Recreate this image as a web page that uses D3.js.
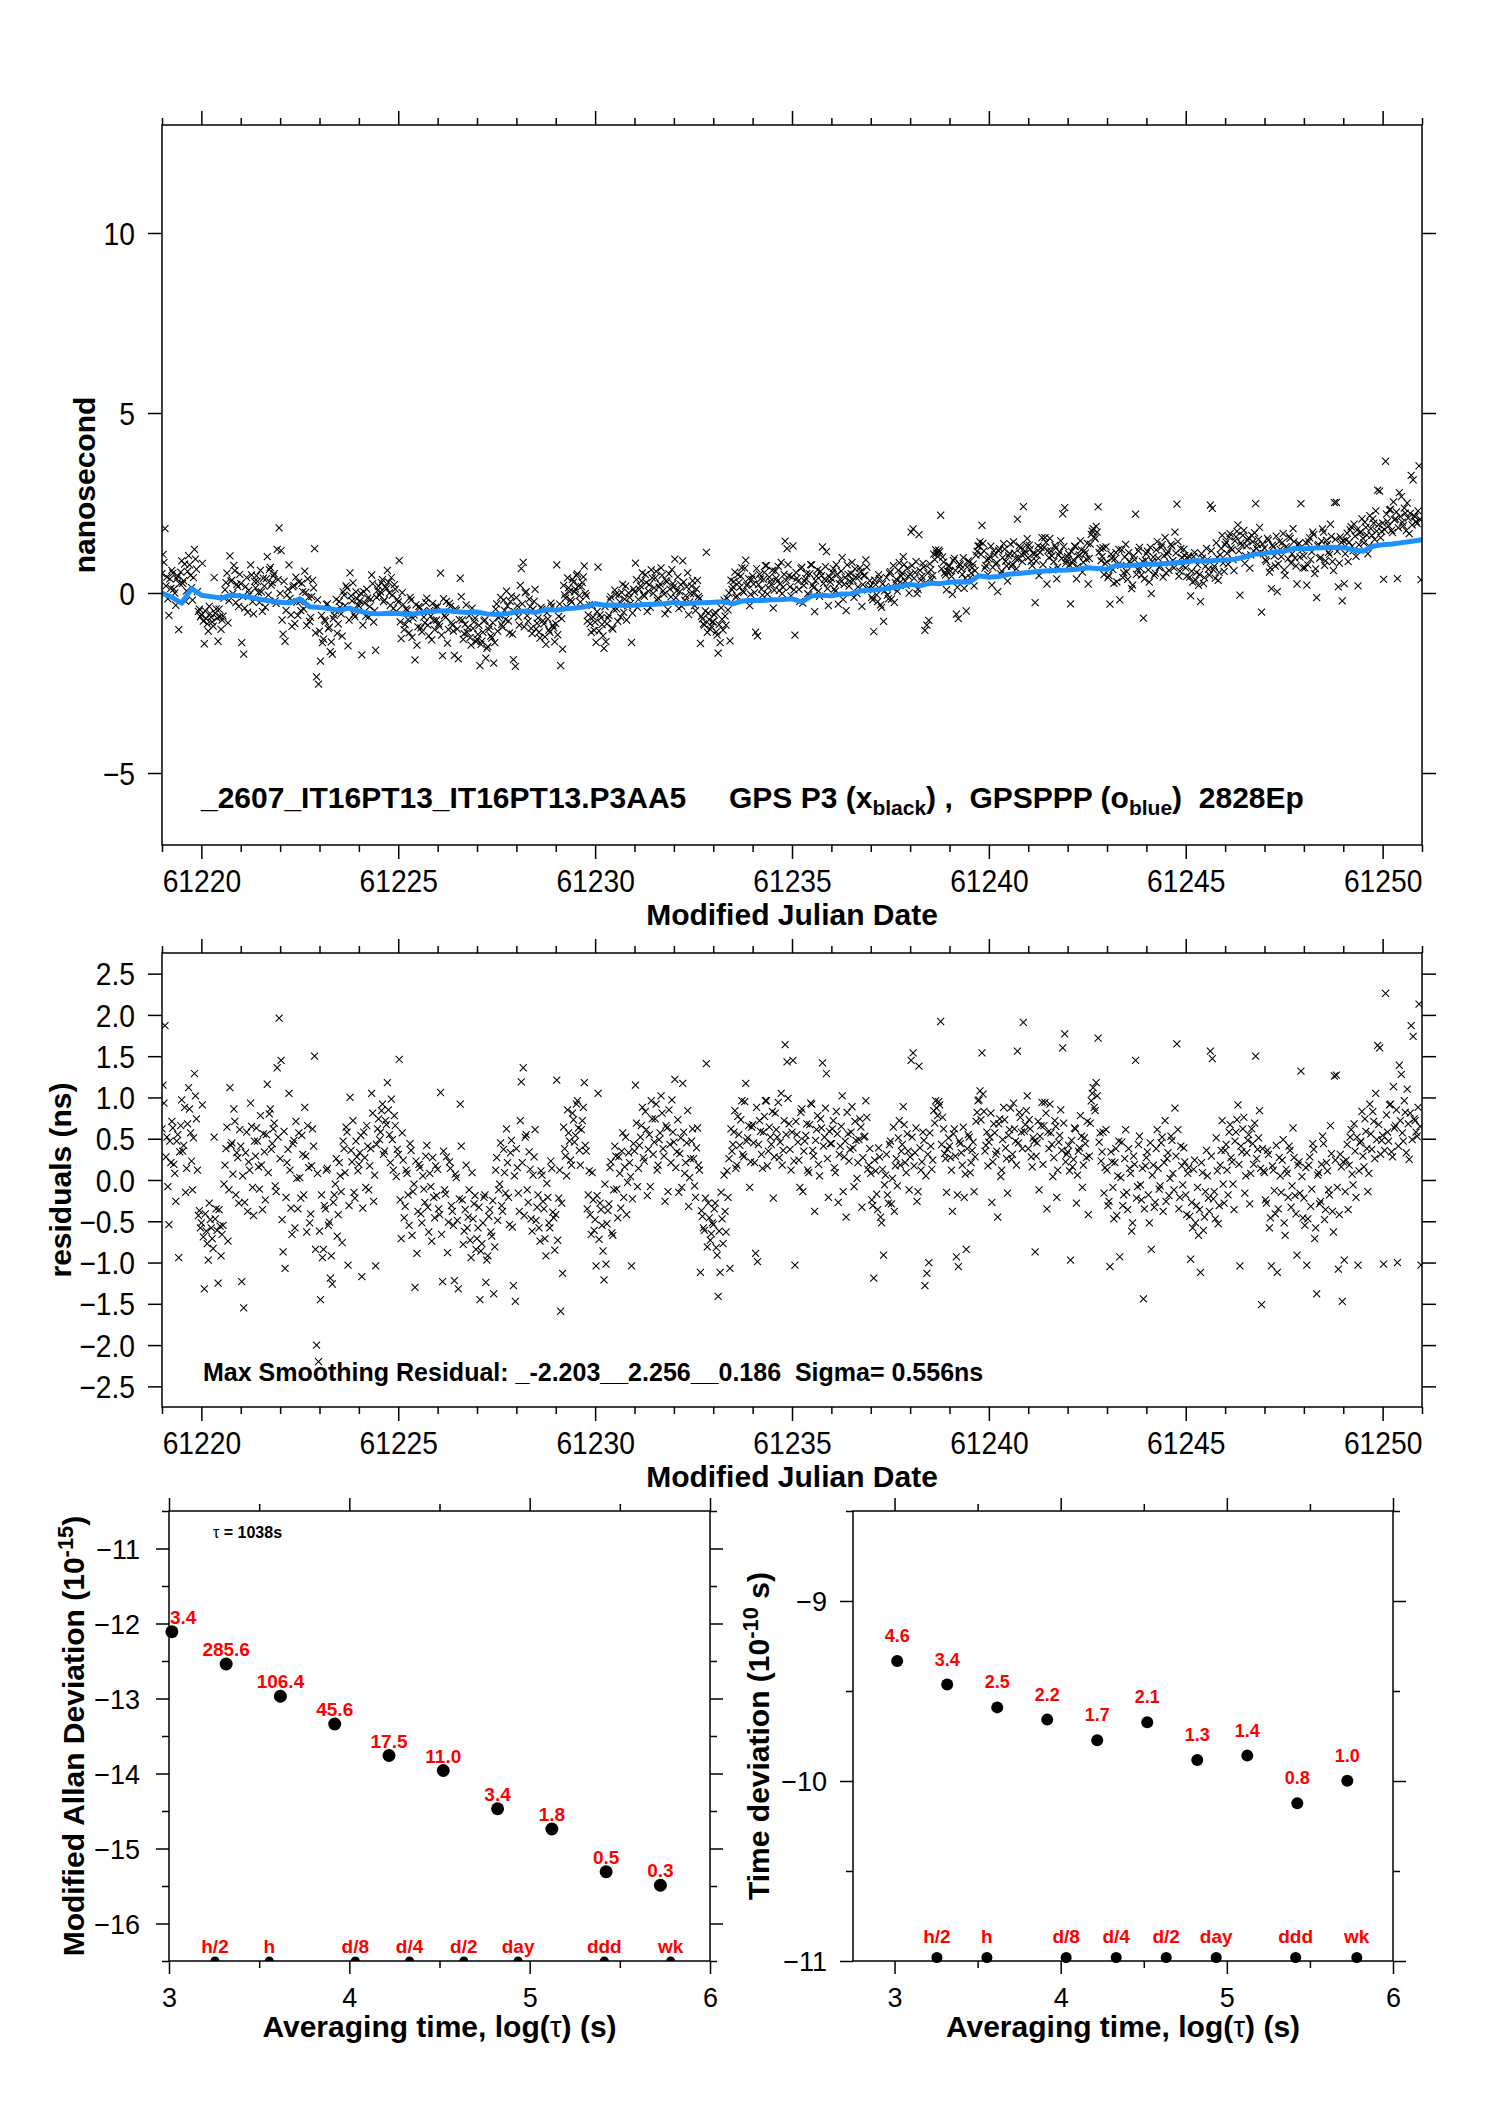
<!DOCTYPE html>
<html><head><meta charset="utf-8">
<script src="https://cdn.jsdelivr.net/npm/d3@7"></script>
<style>body{margin:0;background:#fff}</style>
</head><body><svg id="c" width="1488" height="2105" xmlns="http://www.w3.org/2000/svg"></svg>
<script>
// ---------------- DATA ----------------
// sampling grids of the scatter series (MJD): set A and interleaved set B
const epochStartA = 61219.025, epochStartB = 61219.0, epochStep = 0.05;
// residuals (ns), set A, 20 per day
const residualsA = [
1.15,1.87,0.52,-0.54,0.21,0.63,0.08,0.47,-0.94,0.66,0.35,0.88,0.14,1.12,0.57,-0.12,1.29,0.74,-0.43,-0.58,
0.91,-1.32,-0.62,-0.97,-0.48,-0.71,0.52,-0.35,-1.25,-0.56,-0.66,-0.05,0.38,-0.74,1.12,0.45,0.86,-0.18,0.27,0.61,
-1.23,-1.55,0.33,-0.38,0.12,0.65,-0.43,0.29,0.47,-0.11,0.18,0.56,-0.24,1.16,0.80,0.37,0.62,-0.07,1.36,1.96,
1.45,-0.87,-1.07,0.21,1.05,-0.34,0.44,-0.58,0.02,0.57,-0.22,0.31,0.88,-0.63,0.15,-0.41,0.62,1.50,-2.00,-2.20,
-1.45,-0.94,-0.31,0.12,-0.55,-1.19,-1.26,-0.18,0.26,-0.42,0.05,-0.76,0.38,0.64,-1.03,1.00,0.22,-0.15,0.47,0.11,
0.33,-1.17,0.58,-0.09,0.41,0.17,1.05,-0.26,-1.04,0.62,0.49,0.84,0.31,0.72,1.18,0.55,0.98,0.12,0.66,0.37,
1.46,-0.71,0.24,-0.32,0.08,-0.55,0.36,-0.14,-1.30,-0.89,0.19,-0.41,0.05,-0.27,0.42,-0.63,-0.08,0.27,-0.46,-0.19,
-0.35,1.06,-1.23,-0.12,0.28,-0.51,0.14,-0.38,-1.22,0.03,-1.32,0.92,-0.24,-0.62,0.18,-0.45,-0.73,0.09,-0.29,-0.84,
-0.58,-1.45,-0.77,-0.21,-1.24,-0.92,-0.36,-0.68,-1.38,0.12,-0.49,-0.05,-0.31,0.37,-0.16,0.21,-0.54,0.48,-1.28,-1.47,
0.15,-0.38,1.19,1.36,0.52,-0.12,0.34,-0.47,0.06,0.61,-0.33,-0.58,0.11,-0.26,-0.71,-0.04,-0.52,0.23,-0.39,-0.85,
1.21,-0.22,-1.59,-1.13,0.38,0.05,0.57,0.24,0.81,0.46,0.92,0.63,0.18,0.72,1.18,0.35,-0.18,-0.42,0.09,-0.61,
-1.04,1.05,-0.28,-0.55,-1.21,-1.02,-0.37,0.15,-0.64,-0.12,0.29,-0.46,0.08,0.35,-0.21,0.52,-0.03,0.21,-1.04,0.44,
1.15,-0.08,0.42,0.66,0.27,0.83,-0.19,0.55,0.96,0.31,0.74,0.12,0.49,1.02,0.38,-0.26,0.63,0.85,0.21,0.58,
1.22,0.34,-0.15,0.51,1.17,0.08,0.45,-0.32,0.26,0.62,-0.07,0.39,0.18,-1.12,-0.44,-0.61,1.41,-0.28,-0.73,-0.52,
-0.35,-0.82,-1.41,-1.12,-0.47,0.06,-0.63,-0.21,-1.07,0.35,0.58,0.14,0.77,0.42,0.96,0.28,1.17,0.51,-0.09,0.64,
0.45,-0.89,-0.99,0.72,0.31,0.58,0.96,0.17,0.64,0.43,-0.22,0.81,0.52,0.27,1.05,0.36,1.64,1.43,0.68,0.12,
1.45,-1.03,0.55,0.24,0.82,-0.14,0.47,0.68,0.09,0.93,0.36,-0.38,0.61,0.19,0.74,1.42,0.52,1.29,-0.21,0.44,
0.62,0.15,0.83,-0.27,0.41,1.02,0.28,-0.45,0.56,0.37,0.89,-0.08,0.48,0.21,0.74,-0.33,0.52,0.96,0.13,0.38,
-0.24,-1.19,0.11,-0.36,0.28,-0.52,-0.91,0.06,-0.18,0.43,-0.29,0.64,0.17,-0.07,0.72,0.35,0.89,0.21,0.56,-0.12,
1.45,1.54,0.33,-0.26,1.38,0.12,0.58,-1.28,-1.13,-1.00,0.41,0.24,0.69,0.87,0.95,1.92,0.76,0.32,-0.15,0.51,
0.27,-0.38,0.62,-0.93,-1.05,0.44,0.18,-0.21,-0.84,0.55,0.09,0.36,-0.14,0.71,0.96,1.08,1.54,0.83,0.42,0.17,
0.52,-0.27,0.68,0.31,-0.45,0.74,0.12,0.88,0.39,-0.16,0.61,0.25,0.93,0.47,1.56,0.82,0.58,1.91,0.67,1.02,
0.73,0.28,0.51,-0.87,0.45,-0.12,0.66,0.19,0.94,-0.35,0.38,0.57,0.04,0.72,-0.21,0.46,0.85,1.60,1.77,0.31,
0.42,-0.97,0.16,0.63,-0.28,0.35,0.78,-0.09,0.51,0.27,-0.42,0.69,1.05,0.88,1.18,1.72,0.57,0.34,-0.16,0.61,
-0.31,-1.05,0.22,-0.47,0.38,0.05,-0.93,0.46,-0.18,0.61,-0.36,0.14,-0.62,0.29,1.45,-0.08,0.53,-0.24,-1.44,0.17,
0.34,-0.52,-0.84,0.18,-0.27,0.61,-0.11,0.45,-0.38,0.72,0.26,-0.19,0.53,0.08,0.87,1.65,-0.35,0.41,-0.06,0.22,
-0.42,0.15,-0.96,-0.58,0.24,-0.31,-0.67,-1.12,0.09,-0.45,0.36,-0.22,1.56,1.47,-0.14,0.51,-0.53,0.18,0.72,-0.28,
0.43,-0.18,0.67,0.22,-0.36,0.58,0.91,-1.04,0.34,0.76,0.05,0.48,-0.29,0.62,0.19,1.50,0.37,0.84,-1.51,0.11,
-0.24,0.36,-0.58,-1.04,0.12,-0.41,-1.12,0.27,-0.15,0.49,-0.67,0.08,0.41,-0.33,0.63,-0.19,-0.91,0.22,1.32,-0.46,
-0.55,-1.03,0.18,-0.32,0.44,-0.71,-1.38,0.09,-0.26,0.53,-0.48,0.21,-0.12,0.66,-0.38,1.26,1.27,-1.08,0.31,-1.47,
-0.97,0.24,-0.36,0.52,0.07,0.68,-0.21,-1.03,0.45,0.83,0.16,0.59,-0.14,0.92,0.37,0.71,1.05,1.63,1.60,0.48,
-1.02,2.26,0.58,0.91,0.34,1.13,0.66,-1.00,1.39,1.28,0.47,0.82,1.10,0.25,1.87,1.74,0.72,0.53,2.13,-1.03
];
// residuals (ns), set B, 20 per day
const residualsB = [
0.62,0.93,0.28,-0.08,0.47,0.71,0.19,-0.26,0.55,0.34,0.97,0.42,-0.15,0.68,0.86,0.23,0.51,1.02,0.12,-0.37,
-0.52,-0.69,-0.41,-0.77,-0.28,-0.58,-0.83,-0.47,-0.61,-0.36,-0.92,-0.55,0.18,0.64,-0.12,0.42,0.07,0.71,0.33,-0.28,
0.41,0.05,-0.27,0.58,0.22,0.93,-0.09,0.47,0.63,0.16,0.78,-0.36,0.34,0.55,0.09,0.86,0.44,0.69,-0.14,0.52,
0.26,-0.48,0.59,-0.21,0.37,0.12,-0.66,0.48,0.71,-0.35,0.03,0.54,-0.18,0.29,0.66,-0.52,0.17,0.41,-0.84,0.08,
-0.62,-0.18,-0.84,-0.35,0.14,-0.51,-0.92,-0.27,-0.05,-0.68,0.21,-0.14,0.47,0.09,0.58,-0.31,0.36,0.72,-0.22,0.28,
0.19,0.54,-0.34,0.27,0.66,-0.12,0.38,0.81,0.06,0.43,0.74,0.58,0.92,0.35,0.67,0.85,0.21,0.49,0.78,0.04,
0.31,-0.24,0.57,-0.46,0.12,-0.18,0.44,-0.67,-0.05,0.23,-0.38,0.15,-0.52,-0.11,0.29,-0.33,0.08,-0.74,-0.21,0.17,
0.13,-0.42,-0.66,0.35,-0.17,-0.88,0.22,-0.31,-0.55,0.07,-0.49,-0.23,0.41,-0.78,-0.36,-0.58,-0.12,-0.94,-0.47,-0.19,
-0.71,-0.33,-0.86,-0.52,-0.18,-0.97,-0.44,-0.63,-0.25,-0.81,0.27,-0.12,0.45,-0.38,0.09,0.62,-0.21,0.33,-0.57,0.05,
0.38,-0.16,0.72,0.21,-0.43,0.55,-0.27,0.13,-0.62,0.28,-0.49,-0.18,-0.74,0.06,-0.35,-0.92,-0.21,-0.58,0.14,-0.46,
-0.42,-0.73,0.12,-0.28,0.64,0.29,0.85,0.47,0.18,0.73,0.54,0.96,0.36,0.61,0.88,0.42,-0.35,0.11,-0.66,-0.24,
-0.48,-0.19,-0.72,-0.36,-0.86,-0.05,-0.53,-0.29,0.22,-0.67,0.41,-0.11,0.28,-0.34,0.57,0.16,-0.42,0.33,0.04,-0.23,
0.35,0.69,0.14,0.52,0.88,0.23,0.61,0.37,-0.08,0.74,0.46,0.92,0.18,0.57,0.81,0.29,0.66,-0.14,0.43,0.97,
0.46,0.15,0.73,0.32,-0.09,0.58,0.21,0.84,0.03,0.47,0.26,-0.21,0.63,0.12,-0.37,-0.58,-0.22,-0.81,-0.46,-0.65,
-0.54,-0.28,-0.91,-0.62,-0.15,-0.77,-0.38,0.11,0.26,0.62,0.43,0.84,0.18,0.55,0.73,0.31,0.95,0.47,0.66,0.22,
0.67,0.21,0.88,0.43,0.59,0.14,0.77,0.96,0.35,0.52,0.83,0.28,0.61,0.94,0.46,0.18,0.72,0.55,0.99,0.37,
0.58,0.23,0.71,0.46,-0.09,0.86,0.35,0.54,0.12,0.67,0.92,0.29,0.48,0.78,0.05,0.63,0.41,0.87,0.26,0.59,
0.44,0.72,0.09,0.56,0.31,0.65,-0.14,0.47,0.82,0.23,0.58,0.39,0.71,0.02,0.49,0.64,0.27,0.53,0.76,0.18,
0.08,-0.31,0.24,-0.17,0.39,-0.45,0.13,-0.06,0.31,-0.28,0.47,0.02,-0.38,0.26,0.51,0.18,0.43,0.67,0.09,0.35,
0.28,0.52,0.17,0.63,-0.14,0.39,0.22,0.48,0.05,0.31,0.57,0.13,0.84,0.96,0.78,0.91,0.43,0.62,0.26,0.37,
0.41,0.12,0.56,0.29,-0.18,0.47,0.33,0.64,0.07,0.38,0.52,0.21,0.46,0.28,0.82,0.97,0.73,1.04,0.35,0.58,
0.46,0.81,0.22,0.57,0.35,0.68,0.04,0.49,0.73,0.26,0.54,0.87,0.31,0.62,0.18,0.45,0.76,0.38,0.59,0.84,
0.38,0.62,0.16,0.47,0.29,0.71,0.53,0.94,0.66,0.81,0.58,0.92,0.43,0.27,0.65,0.12,0.54,0.36,0.69,0.22,
0.34,0.11,0.48,0.25,0.62,0.06,0.39,0.53,0.18,0.44,0.71,0.29,0.96,1.12,0.84,1.02,0.46,0.23,0.58,0.15,
0.12,-0.26,0.34,-0.09,0.21,-0.43,0.47,0.03,-0.31,0.26,-0.15,0.38,0.08,-0.52,0.19,-0.22,0.43,-0.06,0.14,-0.35,
0.27,-0.18,0.45,0.06,-0.33,0.38,0.14,-0.07,0.52,0.21,-0.26,0.33,0.02,0.48,-0.12,0.29,0.61,-0.21,0.17,0.39,
-0.18,0.08,-0.44,-0.27,0.13,-0.52,-0.09,-0.36,0.21,-0.61,-0.14,0.05,-0.38,0.29,-0.23,-0.47,0.11,-0.31,0.36,-0.05,
0.36,0.12,0.58,0.27,-0.05,0.47,0.73,0.19,0.41,0.62,-0.16,0.33,0.55,0.08,0.44,0.69,0.26,0.51,0.14,0.38,
0.09,-0.28,0.31,-0.46,0.17,-0.13,0.42,-0.35,0.05,0.24,-0.52,0.13,-0.21,0.36,-0.07,0.27,-0.41,0.18,-0.16,0.04,
-0.22,0.15,-0.47,0.28,-0.11,0.37,-0.58,0.06,-0.29,0.19,0.44,-0.36,0.11,-0.18,0.32,-0.63,0.24,-0.09,-0.42,0.16,
0.22,-0.14,0.43,0.18,0.61,-0.06,0.35,0.52,0.11,0.47,0.29,0.74,0.38,0.08,0.56,0.83,0.26,0.49,0.67,0.31,
0.54,0.36,0.79,0.47,0.92,0.28,0.63,0.85,0.41,0.72,0.57,0.96,0.33,0.68,0.81,0.49,0.74,0.58,0.88,0.65
];
// GPS P3 time difference (ns, black x), set A, 20 per day
const gpsP3A = [
1.07,1.79,0.44,-0.62,0.13,0.55,0.00,0.39,-1.02,0.58,0.27,0.80,0.06,1.04,0.49,-0.20,1.21,0.66,-0.51,-0.66,
0.82,-1.41,-0.71,-1.06,-0.57,-0.80,0.43,-0.44,-1.34,-0.65,-0.75,-0.14,0.29,-0.83,1.03,0.36,0.77,-0.27,0.18,0.52,
-1.38,-1.70,0.18,-0.53,-0.03,0.50,-0.58,0.14,0.32,-0.26,0.03,0.41,-0.39,1.01,0.65,0.22,0.47,-0.22,1.21,1.81,
1.18,-1.14,-1.34,-0.06,0.78,-0.61,0.17,-0.85,-0.25,0.30,-0.49,0.04,0.61,-0.90,-0.12,-0.68,0.35,1.23,-2.33,-2.53,
-1.89,-1.38,-0.75,-0.32,-0.99,-1.63,-1.70,-0.62,-0.18,-0.86,-0.39,-1.20,-0.06,0.20,-1.47,0.56,-0.22,-0.59,0.03,-0.33,
-0.22,-1.72,0.03,-0.64,-0.14,-0.38,0.50,-0.81,-1.59,0.07,-0.06,0.29,-0.24,0.17,0.63,0.00,0.43,-0.43,0.11,-0.18,
0.90,-1.27,-0.32,-0.88,-0.48,-1.11,-0.20,-0.70,-1.86,-1.45,-0.37,-0.97,-0.51,-0.83,-0.14,-1.19,-0.64,-0.29,-1.02,-0.75,
-0.86,0.55,-1.74,-0.63,-0.23,-1.02,-0.37,-0.89,-1.73,-0.48,-1.83,0.41,-0.75,-1.13,-0.33,-0.96,-1.24,-0.42,-0.80,-1.35,
-1.15,-2.02,-1.34,-0.78,-1.81,-1.49,-0.93,-1.25,-1.95,-0.45,-1.06,-0.62,-0.88,-0.20,-0.73,-0.36,-1.11,-0.09,-1.85,-2.04,
-0.36,-0.89,0.68,0.85,0.01,-0.63,-0.17,-0.98,-0.45,0.10,-0.84,-1.09,-0.40,-0.77,-1.22,-0.55,-1.03,-0.28,-0.90,-1.36,
0.78,-0.65,-2.02,-1.56,-0.05,-0.38,0.14,-0.19,0.38,0.03,0.49,0.20,-0.25,0.29,0.75,-0.08,-0.61,-0.85,-0.34,-1.04,
-1.37,0.72,-0.61,-0.88,-1.54,-1.35,-0.70,-0.18,-0.97,-0.45,-0.04,-0.79,-0.25,0.02,-0.54,0.19,-0.36,-0.12,-1.37,0.11,
0.83,-0.40,0.10,0.34,-0.05,0.51,-0.51,0.23,0.64,-0.01,0.42,-0.20,0.17,0.70,0.06,-0.58,0.31,0.53,-0.11,0.26,
0.94,0.06,-0.43,0.23,0.89,-0.20,0.17,-0.60,-0.02,0.34,-0.35,0.11,-0.10,-1.40,-0.72,-0.89,1.13,-0.56,-1.01,-0.80,
-0.61,-1.08,-1.67,-1.38,-0.73,-0.20,-0.89,-0.47,-1.33,0.09,0.32,-0.12,0.51,0.16,0.70,0.02,0.91,0.25,-0.35,0.38,
0.25,-1.09,-1.19,0.52,0.11,0.38,0.76,-0.03,0.44,0.23,-0.42,0.61,0.32,0.07,0.85,0.16,1.44,1.23,0.48,-0.08,
1.31,-1.17,0.41,0.10,0.68,-0.28,0.33,0.54,-0.05,0.79,0.22,-0.52,0.47,0.05,0.60,1.28,0.38,1.15,-0.35,0.30,
0.58,0.11,0.79,-0.31,0.37,0.98,0.24,-0.49,0.52,0.33,0.85,-0.12,0.44,0.17,0.70,-0.37,0.48,0.92,0.09,0.34,
-0.12,-1.07,0.23,-0.24,0.40,-0.40,-0.79,0.18,-0.06,0.55,-0.17,0.76,0.29,0.05,0.84,0.47,1.01,0.33,0.68,0.00,
1.69,1.78,0.57,-0.02,1.62,0.36,0.82,-1.04,-0.89,-0.76,0.65,0.48,0.93,1.11,1.19,2.16,1.00,0.56,0.09,0.75,
0.61,-0.04,0.96,-0.59,-0.71,0.78,0.52,0.13,-0.50,0.89,0.43,0.70,0.20,1.05,1.30,1.42,1.88,1.17,0.76,0.51,
1.01,0.22,1.17,0.80,0.04,1.23,0.61,1.37,0.88,0.33,1.10,0.74,1.42,0.96,2.05,1.31,1.07,2.40,1.16,1.51,
1.33,0.88,1.11,-0.27,1.05,0.48,1.26,0.79,1.54,0.25,0.98,1.17,0.64,1.32,0.39,1.06,1.45,2.20,2.37,0.91,
1.09,-0.30,0.83,1.30,0.39,1.02,1.45,0.58,1.18,0.94,0.25,1.36,1.72,1.55,1.85,2.39,1.24,1.01,0.51,1.28,
0.43,-0.31,0.96,0.27,1.12,0.79,-0.19,1.20,0.56,1.35,0.38,0.88,0.12,1.03,2.19,0.66,1.27,0.50,-0.70,0.91,
1.16,0.30,-0.02,1.00,0.55,1.43,0.71,1.27,0.44,1.54,1.08,0.63,1.35,0.90,1.69,2.47,0.47,1.23,0.76,1.04,
0.46,1.03,-0.08,0.30,1.12,0.57,0.21,-0.24,0.97,0.43,1.24,0.66,2.44,2.35,0.74,1.39,0.35,1.06,1.60,0.60,
1.41,0.80,1.65,1.20,0.62,1.56,1.89,-0.06,1.32,1.74,1.03,1.46,0.69,1.60,1.17,2.48,1.35,1.82,-0.53,1.09,
0.92,1.52,0.58,0.12,1.28,0.75,0.04,1.43,1.01,1.65,0.49,1.24,1.57,0.83,1.79,0.97,0.25,1.38,2.48,0.70,
0.70,0.22,1.43,0.93,1.69,0.54,-0.13,1.34,0.99,1.78,0.77,1.46,1.13,1.91,0.87,2.51,2.52,0.17,1.56,-0.22,
0.26,1.47,0.87,1.75,1.30,1.91,1.02,0.20,1.68,2.06,1.39,1.82,1.09,2.15,1.60,1.94,2.28,2.86,2.83,1.71,
0.38,3.66,1.98,2.31,1.74,2.53,2.06,0.40,2.79,2.68,1.87,2.22,2.50,1.65,3.27,3.14,2.12,1.93,3.53,0.37
];
// GPS P3 time difference (ns, black x), set B, 20 per day
const gpsP3B = [
0.54,0.85,0.20,-0.16,0.39,0.63,0.11,-0.34,0.47,0.26,0.89,0.34,-0.23,0.60,0.78,0.15,0.43,0.94,0.04,-0.45,
-0.61,-0.78,-0.50,-0.86,-0.37,-0.67,-0.92,-0.56,-0.70,-0.45,-1.01,-0.64,0.09,0.55,-0.21,0.33,-0.02,0.62,0.24,-0.37,
0.26,-0.10,-0.42,0.43,0.07,0.78,-0.24,0.32,0.48,0.01,0.63,-0.51,0.19,0.40,-0.06,0.71,0.29,0.54,-0.29,0.37,
-0.01,-0.75,0.32,-0.48,0.10,-0.15,-0.93,0.21,0.44,-0.62,-0.24,0.27,-0.45,0.02,0.39,-0.79,-0.10,0.14,-1.11,-0.19,
-1.06,-0.62,-1.28,-0.79,-0.30,-0.95,-1.36,-0.71,-0.49,-1.12,-0.23,-0.58,0.03,-0.35,0.14,-0.75,-0.08,0.28,-0.66,-0.16,
-0.36,-0.01,-0.89,-0.28,0.11,-0.67,-0.17,0.26,-0.49,-0.12,0.19,0.03,0.37,-0.20,0.12,0.30,-0.34,-0.06,0.23,-0.51,
-0.25,-0.80,0.01,-1.02,-0.44,-0.74,-0.12,-1.23,-0.61,-0.33,-0.94,-0.41,-1.08,-0.67,-0.27,-0.89,-0.48,-1.30,-0.77,-0.39,
-0.38,-0.93,-1.17,-0.16,-0.68,-1.39,-0.29,-0.82,-1.06,-0.44,-1.00,-0.74,-0.10,-1.29,-0.87,-1.09,-0.63,-1.45,-0.98,-0.70,
-1.28,-0.90,-1.43,-1.09,-0.75,-1.54,-1.01,-1.20,-0.82,-1.38,-0.30,-0.69,-0.12,-0.95,-0.48,0.05,-0.78,-0.24,-1.14,-0.52,
-0.13,-0.67,0.21,-0.30,-0.94,0.04,-0.78,-0.38,-1.13,-0.23,-1.00,-0.69,-1.25,-0.45,-0.86,-1.43,-0.72,-1.09,-0.37,-0.97,
-0.85,-1.16,-0.31,-0.71,0.21,-0.14,0.42,0.04,-0.25,0.30,0.11,0.53,-0.07,0.18,0.45,-0.01,-0.78,-0.32,-1.09,-0.67,
-0.81,-0.52,-1.05,-0.69,-1.19,-0.38,-0.86,-0.62,-0.11,-1.00,0.08,-0.44,-0.05,-0.67,0.24,-0.17,-0.75,0.00,-0.29,-0.56,
0.03,0.37,-0.18,0.20,0.56,-0.09,0.29,0.05,-0.40,0.42,0.14,0.60,-0.14,0.25,0.49,-0.03,0.34,-0.46,0.11,0.65,
0.18,-0.13,0.45,0.04,-0.37,0.30,-0.07,0.56,-0.25,0.19,-0.02,-0.49,0.35,-0.16,-0.65,-0.86,-0.50,-1.09,-0.74,-0.93,
-0.80,-0.54,-1.17,-0.88,-0.41,-1.03,-0.64,-0.15,0.00,0.36,0.17,0.58,-0.08,0.29,0.47,0.05,0.69,0.21,0.40,-0.04,
0.47,0.01,0.68,0.23,0.39,-0.06,0.57,0.76,0.15,0.32,0.63,0.08,0.41,0.74,0.26,-0.02,0.52,0.35,0.79,0.17,
0.44,0.09,0.57,0.32,-0.23,0.72,0.21,0.40,-0.02,0.53,0.78,0.15,0.34,0.64,-0.09,0.49,0.27,0.73,0.12,0.45,
0.40,0.68,0.05,0.52,0.27,0.61,-0.18,0.43,0.78,0.19,0.54,0.35,0.67,-0.02,0.45,0.60,0.23,0.49,0.72,0.14,
0.20,-0.19,0.36,-0.05,0.51,-0.33,0.25,0.06,0.43,-0.16,0.59,0.14,-0.26,0.38,0.63,0.30,0.55,0.79,0.21,0.47,
0.52,0.76,0.41,0.87,0.10,0.63,0.46,0.72,0.29,0.55,0.81,0.37,1.08,1.20,1.02,1.15,0.67,0.86,0.50,0.61,
0.75,0.46,0.90,0.63,0.16,0.81,0.67,0.98,0.41,0.72,0.86,0.55,0.80,0.62,1.16,1.31,1.07,1.38,0.69,0.92,
0.95,1.30,0.71,1.06,0.84,1.17,0.53,0.98,1.22,0.75,1.03,1.36,0.80,1.11,0.67,0.94,1.25,0.87,1.08,1.33,
0.98,1.22,0.76,1.07,0.89,1.31,1.13,1.54,1.26,1.41,1.18,1.52,1.03,0.87,1.25,0.72,1.14,0.96,1.29,0.82,
1.01,0.78,1.15,0.92,1.29,0.73,1.06,1.20,0.85,1.11,1.38,0.96,1.63,1.79,1.51,1.69,1.13,0.90,1.25,0.82,
0.86,0.48,1.08,0.65,0.95,0.31,1.21,0.77,0.43,1.00,0.59,1.12,0.82,0.22,0.93,0.52,1.17,0.68,0.88,0.39,
1.09,0.64,1.27,0.88,0.49,1.20,0.96,0.75,1.34,1.03,0.56,1.15,0.84,1.30,0.70,1.11,1.43,0.61,0.99,1.21,
0.70,0.96,0.44,0.61,1.01,0.36,0.79,0.52,1.09,0.27,0.74,0.93,0.50,1.17,0.65,0.41,0.99,0.57,1.24,0.83,
1.34,1.10,1.56,1.25,0.93,1.45,1.71,1.17,1.39,1.60,0.82,1.31,1.53,1.06,1.42,1.67,1.24,1.49,1.12,1.36,
1.25,0.88,1.47,0.70,1.33,1.03,1.58,0.81,1.21,1.40,0.64,1.29,0.95,1.52,1.09,1.43,0.75,1.34,1.00,1.20,
1.03,1.40,0.78,1.53,1.14,1.62,0.67,1.31,0.96,1.44,1.69,0.89,1.36,1.07,1.57,0.62,1.49,1.16,0.83,1.41,
1.45,1.09,1.66,1.41,1.84,1.17,1.58,1.75,1.34,1.70,1.52,1.97,1.61,1.31,1.79,2.06,1.49,1.72,1.90,1.54,
1.94,1.76,2.19,1.87,2.32,1.68,2.03,2.25,1.81,2.12,1.97,2.36,1.73,2.08,2.21,1.89,2.14,1.98,2.28,2.05
];
// GPSPPP reference (ns, blue), every 0.25 day from MJD 61219.0
const pppStart = 61219.0, pppStep = 0.25;
const gpsPPP = [
0.00,-0.12,-0.28,0.12, -0.06,-0.10,-0.14,-0.06, -0.08,-0.12,-0.18,-0.22, -0.26,-0.28,-0.16,-0.38,
-0.40,-0.44,-0.48,-0.42, -0.50,-0.56,-0.58,-0.56, -0.57,-0.60,-0.56,-0.52, -0.50,-0.49,-0.52,-0.54,
-0.53,-0.58,-0.60,-0.58, -0.52,-0.50,-0.54,-0.46, -0.48,-0.44,-0.42,-0.38, -0.30,-0.34,-0.33,-0.35,
-0.34,-0.32,-0.31,-0.30, -0.26,-0.30,-0.28,-0.27, -0.26,-0.24,-0.30,-0.22, -0.20,-0.21,-0.19,-0.18,
-0.16,-0.25,-0.08,-0.06, -0.08,-0.03,-0.02,0.06, 0.08,0.10,0.14,0.18, 0.24,0.20,0.28,0.26,
0.30,0.31,0.30,0.48, 0.44,0.46,0.52,0.54, 0.57,0.60,0.62,0.63, 0.64,0.66,0.70,0.68,
0.66,0.78,0.76,0.78, 0.80,0.80,0.82,0.84, 0.86,0.90,0.88,0.90, 0.92,0.94,1.00,1.08,
1.10,1.14,1.16,1.24, 1.22,1.25,1.26,1.27, 1.26,1.20,1.16,1.30, 1.34,1.36,1.40,1.44, 1.48
];
// stability analysis
const tauLog = [3.016, 3.317, 3.618, 3.919, 4.220, 4.521, 4.822, 5.123, 5.424, 5.725];
const modAdevLog = [-12.11, -12.54, -12.97, -13.34, -13.76, -13.96, -14.47, -14.74, -15.31, -15.49];
const modAdevLabels = ["3.4","285.6","106.4","45.6","17.5","11.0","3.4","1.8","0.5","0.3"];
const tdevLog = [-9.333, -9.464, -9.591, -9.659, -9.774, -9.673, -9.883, -9.859, -10.123, -9.998];
const tdevLabels = ["4.6","3.4","2.5","2.2","1.7","2.1","1.3","1.4","0.8","1.0"];
const markerLog = [3.255, 3.556, 4.033, 4.334, 4.635, 4.936, 5.414, 5.782];
const markerLabels = ["h/2","h","d/8","d/4","d/2","day","ddd","wk"];
// ticks
const mjdMajor = [61220,61225,61230,61235,61240,61245,61250];
const mjdMinor = [61219,61221,61222,61223,61224,61226,61227,61228,61229,61231,61232,61233,61234,61236,61237,61238,61239,61241,61242,61243,61244,61246,61247,61248,61249,61251];
const nsTicks = [-5,0,5,10];
const resTicks = [-2.5,-2.0,-1.5,-1.0,-0.5,0.0,0.5,1.0,1.5,2.0,2.5];
const logMajor = [3,4,5,6], logMinor = [3.5,4.5,5.5];
const adevMajor = [-16,-15,-14,-13,-12,-11], adevMinor = [-16.5,-15.5,-14.5,-13.5,-12.5,-11.5,-10.5];
const tdevMajor = [-11,-10,-9], tdevMinor = [-10.5,-9.5,-8.5];

// ---------------- DRAWING ----------------
const FONT = '"Liberation Sans", Arial, Helvetica, sans-serif';
const svg = d3.select('#c');
svg.append('rect').attr('width',1488).attr('height',2105).attr('fill','#fff');

const xT = d3.scaleLinear([61219, 61251], [162, 1422]);
const yTop = d3.scaleLinear([-7, 13], [845, 125]);
const yMid = d3.scaleLinear([-2.75, 2.75], [1407, 953]);
const xL = d3.scaleLinear([3, 6], [169, 710]);
const yL = d3.scaleLinear([-16.5, -10.5], [1961, 1511]);
const xR = d3.scaleLinear([2.75, 6], [853, 1393]);
const yR = d3.scaleLinear([-11, -8.5], [1961, 1511]);

const defs = svg.append('defs');
function clip(id, x0, y0, x1, y1){
  defs.append('clipPath').attr('id', id).append('rect').attr('x',x0).attr('y',y0).attr('width',x1-x0).attr('height',y1-y0);
  return 'url(#'+id+')';
}
function frame(x0,y0,x1,y1){
  svg.append('rect').attr('x',x0).attr('y',y0).attr('width',x1-x0).attr('height',y1-y0)
    .attr('fill','none').attr('stroke','#000').attr('stroke-width',1.5);
}
function axis(kind, scale, values, size, pos, fmt, fs){
  const maker = {top:d3.axisTop,bottom:d3.axisBottom,left:d3.axisLeft,right:d3.axisRight}[kind];
  const ax = maker(scale).tickValues(values).tickSize(size).tickSizeOuter(0).tickFormat(fmt || (()=>''));
  const tr = (kind==='top'||kind==='bottom') ? `translate(0,${pos})` : `translate(${pos},0)`;
  const g = svg.append('g').attr('transform', tr).call(ax);
  g.select('.domain').remove();
  g.selectAll('.tick line').attr('stroke','#000').attr('stroke-width',1.5);
  g.attr('font-family', FONT).attr('font-size', fs || 28);
  g.selectAll('.tick text').attr('fill','#000');
  return g;
}
function bottomLabels(g, off){ g.selectAll('.tick text').attr('y', off).attr('dy', null); return g; }
function leftLabels(g, off){ g.selectAll('.tick text').attr('x', -off).attr('dy','0.36em'); return g; }
function squeeze(g, f){
  g.selectAll('.tick text').each(function(){
    const L = this.getComputedTextLength();
    d3.select(this).attr('textLength', L*f).attr('lengthAdjust','spacingAndGlyphs');
  });
}

const timesX = d3.symbol().type(d3.symbolTimes || {draw(c,s){const r=Math.sqrt(s)/2;c.moveTo(-r,-r);c.lineTo(r,r);c.moveTo(-r,r);c.lineTo(r,-r);}}).size(34);
function scatter(g, cls, values, start, y){
  g.selectAll('path.'+cls).data(values).join('path').attr('class',cls)
    .attr('d', timesX)
    .attr('transform', (v,i)=>`translate(${xT(start + i*epochStep)},${y(v)})`)
    .attr('fill','none').attr('stroke','#000').attr('stroke-width',1.05);
}

// ===== Panel 1 : time series =====
const cp1 = clip('cp1', 162, 125, 1422, 845);
const g1 = svg.append('g').attr('clip-path', cp1);
scatter(g1, 'p3a', gpsP3A, epochStartA, yTop);
scatter(g1, 'p3b', gpsP3B, epochStartB, yTop);
const pppLine = d3.line().x((v,i)=>xT(pppStart + i*pppStep)).y(v=>yTop(v));
g1.append('path').attr('d', pppLine(gpsPPP)).attr('fill','none').attr('stroke','#1e90ff')
  .attr('stroke-width',5).attr('stroke-linejoin','round').attr('stroke-linecap','round');
frame(162,125,1422,845);
axis('top', xT, mjdMajor, 14, 125);
axis('top', xT, mjdMinor, 7, 125);
squeeze(bottomLabels(axis('bottom', xT, mjdMajor, 14, 845, d3.format('d'), 31), 47), 0.91);
axis('bottom', xT, mjdMinor, 7, 845);
squeeze(leftLabels(axis('left', yTop, nsTicks, 14, 162, d3.format('d'), 31), 27), 0.91);
axis('right', yTop, nsTicks, 14, 1422);

svg.append('text').attr('transform','translate(95,485) rotate(-90)').attr('text-anchor','middle')
  .attr('font-family',FONT).attr('font-size',30).attr('font-weight','bold').text('nanosecond');
svg.append('text').attr('x',792).attr('y',925).attr('text-anchor','middle')
  .attr('font-family',FONT).attr('font-size',30).attr('font-weight','bold').text('Modified Julian Date');
svg.append('text').attr('x',201).attr('y',808).attr('font-family',FONT).attr('font-size',30)
  .attr('font-weight','bold').style('white-space','pre').text('_2607_IT16PT13_IT16PT13.P3AA5');
const t2 = svg.append('text').attr('x',729).attr('y',808).attr('font-family',FONT).attr('font-size',30)
  .attr('font-weight','bold').style('white-space','pre');
t2.append('tspan').text('GPS P3 (x');
t2.append('tspan').attr('font-size',21).attr('dy',7).text('black');
t2.append('tspan').attr('dy',-7).text(') ,  GPSPPP (o');
t2.append('tspan').attr('font-size',21).attr('dy',7).text('blue');
t2.append('tspan').attr('dy',-7).text(')  2828Ep');

// ===== Panel 2 : residuals =====
const cp2 = clip('cp2', 162, 953, 1422, 1407);
const g2 = svg.append('g').attr('clip-path', cp2);
scatter(g2, 'ra', residualsA, epochStartA, yMid);
scatter(g2, 'rb', residualsB, epochStartB, yMid);
frame(162,953,1422,1407);
axis('top', xT, mjdMajor, 14, 953);
axis('top', xT, mjdMinor, 7, 953);
squeeze(bottomLabels(axis('bottom', xT, mjdMajor, 14, 1407, d3.format('d'), 31), 47), 0.91);
axis('bottom', xT, mjdMinor, 7, 1407);
squeeze(leftLabels(axis('left', yMid, resTicks, 14, 162, d3.format('.1f'), 31), 27), 0.91);
axis('right', yMid, resTicks, 14, 1422);
svg.append('text').attr('transform','translate(71,1180) rotate(-90)').attr('text-anchor','middle')
  .attr('font-family',FONT).attr('font-size',30).attr('font-weight','bold').text('residuals (ns)');
svg.append('text').attr('x',792).attr('y',1487).attr('text-anchor','middle')
  .attr('font-family',FONT).attr('font-size',30).attr('font-weight','bold').text('Modified Julian Date');
svg.append('text').attr('x',203).attr('y',1381).attr('font-family',FONT).attr('font-size',25)
  .attr('font-weight','bold').style('white-space','pre')
  .text('Max Smoothing Residual: _-2.203__2.256__0.186  Sigma= 0.556ns');

// ===== Panel 3 : Modified Allan deviation =====
const cp3 = clip('cp3', 169, 1511, 710, 1961);
const g3 = svg.append('g').attr('clip-path', cp3);
g3.selectAll('circle.m').data(markerLog).join('circle').attr('class','m')
  .attr('cx', d=>xL(d)).attr('cy', yL(-16.5)).attr('r',4.5).attr('fill','#000');
svg.selectAll('circle.ad').data(tauLog).join('circle').attr('class','ad')
  .attr('cx', d=>xL(d)).attr('cy',(d,i)=>yL(modAdevLog[i])).attr('r',6.5).attr('fill','#000');
const adLab = svg.selectAll('text.adl').data(modAdevLabels).join('text').attr('class','adl')
  .attr('font-family',FONT).attr('font-size',19).attr('font-weight','bold').attr('fill','#ff0000')
  .attr('y',(d,i)=>yL(modAdevLog[i]) - 8).text(d=>d);
adLab.each(function(d,i){
  const w = this.getComputedTextLength();
  d3.select(this).attr('x', Math.max(xL(tauLog[i]) - w/2, 170));
});
svg.selectAll('text.mkl').data(markerLabels).join('text').attr('class','mkl')
  .attr('font-family',FONT).attr('font-size',19).attr('font-weight','bold').attr('fill','#ff0000')
  .attr('text-anchor','middle').attr('x',(d,i)=>xL(markerLog[i])).attr('y',1953).text(d=>d);
frame(169,1511,710,1961);
axis('top', xL, logMajor, 13, 1511);
axis('top', xL, logMinor, 7, 1511);
bottomLabels(axis('bottom', xL, logMajor, 13, 1961, d3.format('d'), 27), 46);
axis('bottom', xL, logMinor, 7, 1961);
leftLabels(axis('left', yL, adevMajor, 13, 169, d3.format('d'), 27), 29);
axis('left', yL, adevMinor, 7, 169);
axis('right', yL, adevMajor, 13, 710);
axis('right', yL, adevMinor, 7, 710);
const tl = svg.append('text').attr('x',213).attr('y',1538).attr('font-family',FONT).attr('font-size',16).attr('font-weight','bold').style('white-space','pre');
tl.append('tspan').attr('font-weight','normal').text('τ');
tl.append('tspan').text(' = 1038s');
const yt3 = svg.append('text').attr('transform','translate(84,1736) rotate(-90)').attr('text-anchor','middle')
  .attr('font-family',FONT).attr('font-size',30).attr('font-weight','bold');
yt3.append('tspan').text('Modified Allan Deviation (10');
yt3.append('tspan').attr('font-size',22).attr('dy',-11).text('-15');
yt3.append('tspan').attr('dy',11).text(')');
const xt3 = svg.append('text').attr('x',439.5).attr('y',2037).attr('text-anchor','middle')
  .attr('font-family',FONT).attr('font-size',30).attr('font-weight','bold');
xt3.append('tspan').text('Averaging time, log(');
xt3.append('tspan').attr('font-weight','normal').text('τ');
xt3.append('tspan').text(') (s)');

// ===== Panel 4 : Time deviation =====
svg.selectAll('circle.m2').data(markerLog).join('circle').attr('class','m2')
  .attr('cx', d=>xR(d)).attr('cy', yR(-11) - 3.5).attr('r',5.5).attr('fill','#000');
svg.selectAll('circle.td').data(tauLog).join('circle').attr('class','td')
  .attr('cx', d=>xR(d)).attr('cy',(d,i)=>yR(tdevLog[i])).attr('r',6).attr('fill','#000');
svg.selectAll('text.tdl').data(tdevLabels).join('text').attr('class','tdl')
  .attr('font-family',FONT).attr('font-size',18).attr('font-weight','bold').attr('fill','#ff0000')
  .attr('text-anchor','middle').attr('x',(d,i)=>xR(tauLog[i])).attr('y',(d,i)=>yR(tdevLog[i]) - 19).text(d=>d);
svg.selectAll('text.mkl2').data(markerLabels).join('text').attr('class','mkl2')
  .attr('font-family',FONT).attr('font-size',19).attr('font-weight','bold').attr('fill','#ff0000')
  .attr('text-anchor','middle').attr('x',(d,i)=>xR(markerLog[i])).attr('y',1943).text(d=>d);
frame(853,1511,1393,1961);
axis('top', xR, logMajor, 13, 1511);
axis('top', xR, logMinor, 7, 1511);
bottomLabels(axis('bottom', xR, logMajor, 13, 1961, d3.format('d'), 27), 46);
axis('bottom', xR, logMinor, 7, 1961);
leftLabels(axis('left', yR, tdevMajor, 13, 853, d3.format('d'), 27), 26);
axis('left', yR, tdevMinor, 7, 853);
axis('right', yR, tdevMajor, 13, 1393);
axis('right', yR, tdevMinor, 7, 1393);
const yt4 = svg.append('text').attr('transform','translate(769,1736) rotate(-90)').attr('text-anchor','middle')
  .attr('font-family',FONT).attr('font-size',30).attr('font-weight','bold').style('white-space','pre');
yt4.append('tspan').text('Time deviation (10');
yt4.append('tspan').attr('font-size',22).attr('dy',-11).text('-10');
yt4.append('tspan').attr('dy',11).text(' s)');
const xt4 = svg.append('text').attr('x',1123).attr('y',2037).attr('text-anchor','middle')
  .attr('font-family',FONT).attr('font-size',30).attr('font-weight','bold');
xt4.append('tspan').text('Averaging time, log(');
xt4.append('tspan').attr('font-weight','normal').text('τ');
xt4.append('tspan').text(') (s)');
</script></body></html>
